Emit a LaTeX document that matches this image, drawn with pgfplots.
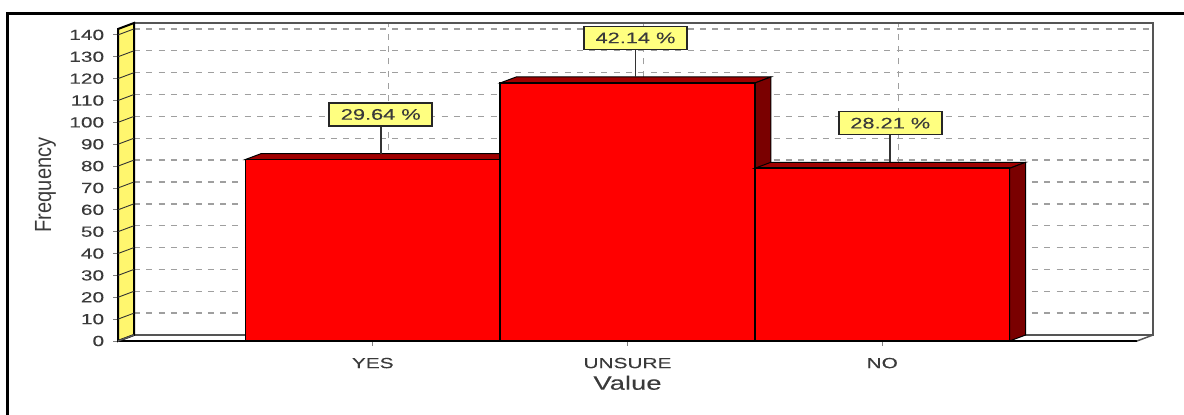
\documentclass[border=0pt]{standalone}
\usepackage{pgfplots}
\pgfplotsset{compat=1.18}
\usepackage{fontspec}
\setmainfont{Liberation Sans}
\newfontfamily\narrowfont[FakeStretch=0.86]{Liberation Sans}
\newfontfamily\widefont[FakeStretch=1.42,FakeBold=0.15]{Liberation Sans}
\definecolor{wallyellow}{HTML}{FFF66E}
\definecolor{barside}{HTML}{7A0000}
\definecolor{bartop}{HTML}{A00000}
\definecolor{notefill}{HTML}{FFFF80}
\definecolor{inktext}{HTML}{3A3A3A}
\definecolor{wallline}{HTML}{555555}
\newcommand{\px}{0.6pt}
\pgfplotsset{base/.style={
    scale only axis, width=1019*\px, height=312*\px,
    xmin=-1, xmax=3, ymin=0, ymax=142.7,
    clip=false,
    /pgf/number format/assume math mode=true,
}}
\begin{document}
\begin{tikzpicture}
\path[use as bounding box] (0,0) rectangle (1184*\px,415*\px);
\draw[black,line width=3*\px] (7*\px,0) -- (7*\px,401.5*\px) -- (1184*\px,401.5*\px);

% back wall with the grid
\begin{axis}[base, at={(134*\px,80*\px)}, anchor=south west,
    axis line style={draw=wallline,line width=2*\px},
    xtick={0,1,2}, xticklabels={}, ytick={0,10,...,140}, yticklabels={},
    tick style={draw=none},
    grid=major,
    grid style={draw=gray!75,dash pattern=on 6*\px off 6.3*\px,line width=1.4*\px}]
\end{axis}

% front plane: wall, floor, bars, notes
\begin{axis}[base, at={(118*\px,74*\px)}, anchor=south west,
    axis x line*=bottom, axis y line*=left,
    axis line style={-,draw=black,line width=2.4*\px},
    xtick={0,1,2}, xticklabels={YES,UNSURE,NO},
    ytick={0,10,...,140},
    tick align=outside, major tick length=5*\px,
    tick style={draw=gray,line width=0.8*\px},
    tick label style={font=\widefont\fontsize{8.8}{10}\selectfont,text=inktext},
    yticklabel style={xshift=-3*\px},
    xticklabel style={yshift=-6*\px},
    xlabel={\widefont\fontsize{11.6}{13}\selectfont Value},
    ylabel={\narrowfont\fontsize{14}{15}\selectfont Frequency},
    xlabel style={text=inktext,yshift=4*\px},
    ylabel style={text=inktext,yshift=2*\px},
    unbounded coords=jump]

% yellow side wall and its tick ticks
\addplot[fill=wallyellow,draw=black,line width=2*\px] coordinates
  {(-1,0) (-0.937,2.75) (-0.937,145.45) (-1,142.7)} -- cycle;
\addplot[black!80,line width=0.9*\px] coordinates {
  (-1,10) (-0.937,12.75) (-1,nan)
  (-1,20) (-0.937,22.75) (-1,nan)
  (-1,30) (-0.937,32.75) (-1,nan)
  (-1,40) (-0.937,42.75) (-1,nan)
  (-1,50) (-0.937,52.75) (-1,nan)
  (-1,60) (-0.937,62.75) (-1,nan)
  (-1,70) (-0.937,72.75) (-1,nan)
  (-1,80) (-0.937,82.75) (-1,nan)
  (-1,90) (-0.937,92.75) (-1,nan)
  (-1,100) (-0.937,102.75) (-1,nan)
  (-1,110) (-0.937,112.75) (-1,nan)
  (-1,120) (-0.937,122.75) (-1,nan)
  (-1,130) (-0.937,132.75) (-1,nan)
  (-1,140) (-0.937,142.75)
};
% floor edges
\addplot[wallline,line width=1.5*\px] coordinates {(-1,0) (-0.937,2.75)};
\addplot[wallline,line width=1.5*\px] coordinates {(3,0) (3.063,2.75)};

% YES
\addplot[fill=bartop,draw=black,line width=1*\px] coordinates
  {(-0.5,83) (-0.437,85.75) (0.563,85.75) (0.5,83)} -- cycle;
\addplot[fill=barside,draw=black,line width=1*\px] coordinates
  {(0.5,0) (0.563,2.75) (0.563,85.75) (0.5,83)} -- cycle;
\addplot[ybar,bar width=1,bar shift=0pt,fill=red,draw=black,line width=1.7*\px] coordinates {(0,83)};
% UNSURE
\addplot[fill=bartop,draw=black,line width=1*\px] coordinates
  {(0.5,118) (0.563,120.75) (1.563,120.75) (1.5,118)} -- cycle;
\addplot[fill=barside,draw=black,line width=1*\px] coordinates
  {(1.5,0) (1.563,2.75) (1.563,120.75) (1.5,118)} -- cycle;
\addplot[ybar,bar width=1,bar shift=0pt,fill=red,draw=black,line width=1.7*\px] coordinates {(1,118)};
% NO
\addplot[fill=bartop,draw=black,line width=1*\px] coordinates
  {(1.5,79) (1.563,81.75) (2.563,81.75) (2.5,79)} -- cycle;
\addplot[fill=barside,draw=black,line width=1*\px] coordinates
  {(2.5,0) (2.563,2.75) (2.563,81.75) (2.5,79)} -- cycle;
\addplot[ybar,bar width=1,bar shift=0pt,fill=red,draw=black,line width=1.7*\px] coordinates {(2,79)};

% leaders
\addplot[black!80,line width=1.6*\px] coordinates {(0.0315,85.75) (0.0315,98)};
\addplot[black!80,line width=1.6*\px] coordinates {(1.0315,120.75) (1.0315,133)};
\addplot[black!80,line width=1.6*\px] coordinates {(2.0315,81.75) (2.0315,94)};

\tikzset{note/.style={fill=notefill,draw=black!85,line width=1.6*\px,
  font=\widefont\fontsize{9.2}{10}\selectfont,text=inktext,
  minimum width=103*\px,minimum height=23*\px,inner sep=0pt,anchor=south}}
\node[note] at (axis cs:0.0315,98) {29.64 \%};
\node[note] at (axis cs:1.0315,133) {42.14 \%};
\node[note] at (axis cs:2.0315,94) {28.21 \%};
\end{axis}
\end{tikzpicture}
\end{document}
